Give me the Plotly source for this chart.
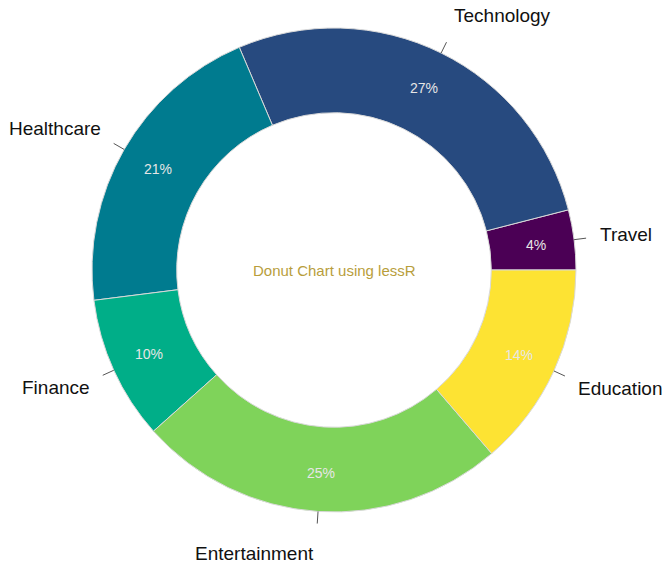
import math
import plotly.graph_objects as go

categories = ["Travel", "Technology", "Healthcare", "Finance", "Entertainment", "Education"]
values = [4.0, 27.4, 20.6, 9.6, 24.7, 13.7]
colors = ["#4B0055", "#274A7F", "#007B8F", "#00AE88", "#7FD35A", "#FDE333"]
center_title = "Donut Chart using lessR"

W, H = 668, 574
ml, mr, mt, mb = 92, 92, 28, 62
hole = 0.65

total = sum(values)
# start of the first slice at 3 o'clock, going counterclockwise
rotation = 90 - values[0] / total * 360

fig = go.Figure()
fig.add_trace(go.Pie(
    labels=categories, values=values, sort=False,
    direction="counterclockwise", rotation=rotation, hole=hole,
    marker=dict(colors=colors, line=dict(color="#d9d9d9", width=1)),
    textinfo="none",
    showlegend=False, hoverinfo="label+percent",
))

# outer labels with tick marks and inner percentages (computed from cumulative values)
cum = 0
shapes = []
annotations = []
mid_r = 0.42
for cat, v in zip(categories, values):
    mid = (cum + v / 2) / total * 2 * math.pi
    cum += v
    c, s = math.cos(mid), math.sin(mid)
    x0, y0 = 0.5 + 0.5 * c, 0.5 + 0.5 * s
    x1, y1 = 0.5 + 0.525 * c, 0.5 + 0.525 * s
    shapes.append(dict(type="line", xref="paper", yref="paper", x0=x0, y0=y0, x1=x1, y1=y1,
                       line=dict(color="#555555", width=1)))
    annotations.append(dict(
        text=cat, xref="paper", yref="paper",
        x=0.5 + 0.55 * c, y=0.5 + 0.587 * s,
        xanchor="left" if c >= 0 else "right", yanchor="middle",
        showarrow=False,
        font=dict(family="Liberation Sans, Arial", size=19, color="#111111"),
    ))
    annotations.append(dict(
        text=f"{round(100 * v / total)}%", xref="paper", yref="paper",
        x=0.5 + mid_r * c, y=0.5 + mid_r * s,
        xanchor="center", yanchor="middle", showarrow=False,
        font=dict(family="Liberation Sans, Arial", size=14, color="#e6e6e6"),
    ))

annotations.append(dict(
    text=center_title, xref="paper", yref="paper", x=0.5, y=0.5,
    showarrow=False, font=dict(family="Liberation Sans, Arial", size=15, color="#B89E3C"),
))

fig.update_layout(
    width=W, height=H,
    margin=dict(l=ml, r=mr, t=mt, b=mb, autoexpand=False),
    paper_bgcolor="white", plot_bgcolor="white",
    shapes=shapes, annotations=annotations,
)
fig.write_html("out.html")
